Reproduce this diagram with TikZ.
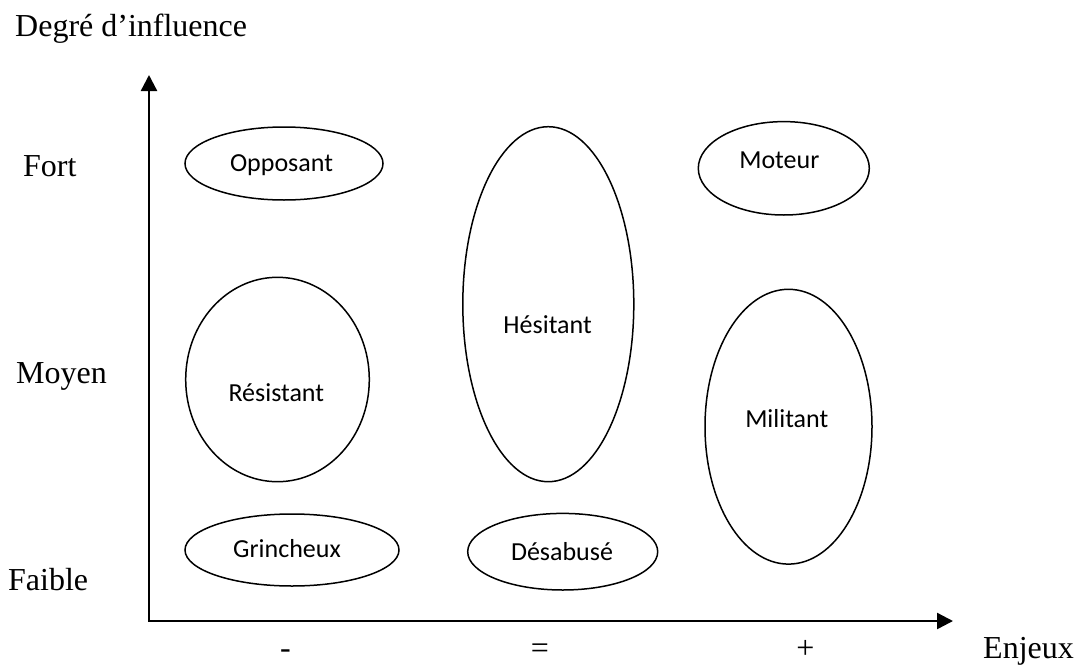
\documentclass[tikz,border=0pt]{standalone}
\usepackage{fontspec}
\setmainfont{Liberation Serif}
\newfontfamily\calib{Carlito}
\usetikzlibrary{shapes.geometric,arrows.meta}

\tikzset{
  axis/.style={line width=2.4pt, line join=miter,
    {Triangle[length=16pt,width=16pt]}-{Triangle[length=16pt,width=16pt]}},
  zone/.style={draw, ellipse, line width=1.5pt, inner sep=0pt, outer sep=0pt},
  tag/.style={inner sep=0pt, anchor=base, font=\calib\fontsize{26}{30}\selectfont},
  scale label/.style={inner sep=0pt, anchor=base west, font=\fontsize{32}{38}\selectfont},
  tick/.style={inner sep=0pt, anchor=base, font=\fontsize{32}{38}\selectfont}
}

\begin{document}
\begin{tikzpicture}[x=1pt, y=-1pt]
  \useasboundingbox (0,0) rectangle (1076,664);

  % axes
  \coordinate (origin) at (149,621);
  \coordinate (ytip) at (149,75);
  \coordinate (xtip) at (953,621);
  \draw[axis] (ytip) -- (origin) -- (xtip);

  % axis titles and levels
  \node[scale label] (ytitle) at (15,36.5) {Degré d’influence};
  \node[scale label] (fort) at (23,176) {Fort};
  \node[scale label] (moyen) at (16,383) {Moyen};
  \node[scale label] (faible) at (8,590) {Faible};
  \node[scale label] (xtitle) at (983,658) {Enjeux};
  \node[tick] (moins) at (285.5,658) {-};
  \node[tick] (egal) at (540,658) {=};
  \node[tick] (plus) at (805.5,658) {+};

  % actor zones
  \node[zone, minimum width=198pt, minimum height=73pt] (opposant) at (284,163.5) {};
  \node[zone, minimum width=171pt, minimum height=93.4pt] (moteur) at (783.8,168.3) {};
  \node[zone, minimum width=171pt, minimum height=355pt] (hesitant) at (548.3,304.2) {};
  \node[zone, minimum width=183.6pt, minimum height=204.4pt] (resistant) at (277.5,379.5) {};
  \node[zone, minimum width=167pt, minimum height=274.8pt] (militant) at (788.5,426.7) {};
  \node[zone, minimum width=214pt, minimum height=72pt] (grincheux) at (292,550) {};
  \node[zone, minimum width=190pt, minimum height=76.6pt] (desabuse) at (562.7,551.7) {};

  % zone names
  \node[tag] (t-opposant) at (281.5,171.7) {Opposant};
  \node[tag] (t-moteur) at (779.3,168.3) {Moteur};
  \node[tag] (t-hesitant) at (547.6,333) {Hésitant};
  \node[tag] (t-resistant) at (276.3,401.7) {Résistant};
  \node[tag] (t-militant) at (786.8,427) {Militant};
  \node[tag] (t-grincheux) at (287,557.7) {Grincheux};
  \node[tag] (t-desabuse) at (562,560) {Désabusé};
\end{tikzpicture}
\end{document}
